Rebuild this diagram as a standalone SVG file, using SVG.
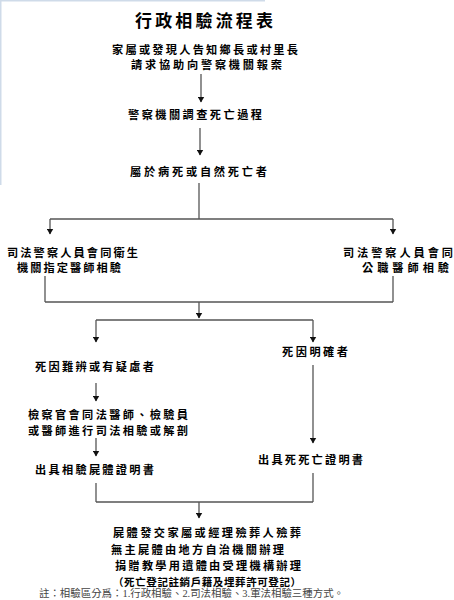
<svg xmlns="http://www.w3.org/2000/svg" width="454" height="600" viewBox="0 0 454 600">
<style>
.t{font-family:"Noto Sans CJK TC","Noto Sans CJK SC",sans-serif;font-weight:bold;font-size:11.2px;fill:#000}
.ti{font-family:"Noto Sans CJK TC","Noto Sans CJK SC",sans-serif;font-weight:bold;font-size:17px;fill:#000}
.s{font-size:10.5px}
.fn{font-family:"Liberation Serif","Noto Sans CJK TC",serif;font-size:10.5px;fill:#444}
.c line{stroke:#555;stroke-width:1.3;fill:none}
.c line.a{marker-end:url(#ah)}
</style>
<defs>
<marker id="ah" viewBox="0 0 6 7" refX="5.5" refY="3.5" markerWidth="6" markerHeight="7" markerUnits="userSpaceOnUse" orient="auto">
<path d="M0,0 L6,3.5 L0,7 Z" fill="#111"/>
</marker>
</defs>
<rect width="454" height="600" fill="#fff"/>
<rect x="0" y="0" width="265" height="1.5" fill="#cfdbe9"/>
<rect x="0" y="0" width="1.5" height="185" fill="#cfdbe9"/>

<g id="title"><text class="ti" x="135" y="27" textLength="138" lengthAdjust="spacing">行政相驗流程表</text></g>

<g id="n1">
<text class="t"><tspan x="112" y="53.5" textLength="186" lengthAdjust="spacing">家屬或發現人告知鄉長或村里長</tspan><tspan x="131" y="69" textLength="151" lengthAdjust="spacing">請求協助向警察機關報案</tspan></text>
</g>
<g id="n2"><text class="t" x="128" y="119" textLength="134" lengthAdjust="spacing">警察機關調查死亡過程</text></g>
<g id="n3"><text class="t" x="130" y="176" textLength="137" lengthAdjust="spacing">屬於病死或自然死亡者</text></g>
<g id="n4">
<text class="t"><tspan x="7" y="256.5" textLength="131" lengthAdjust="spacing">司法警察人員會同衛生</tspan><tspan x="17" y="272" textLength="104" lengthAdjust="spacing">機關指定醫師相驗</tspan></text>
</g>
<g id="n5">
<text class="t"><tspan x="343" y="256.5" textLength="110" lengthAdjust="spacing">司法警察人員會同</tspan><tspan x="362" y="272" textLength="87" lengthAdjust="spacing">公職醫師相驗</tspan></text>
</g>
<g id="n6"><text class="t" x="35" y="371" textLength="119" lengthAdjust="spacing">死因難辨或有疑慮者</text></g>
<g id="n7"><text class="t" x="282" y="356" textLength="66" lengthAdjust="spacing">死因明確者</text></g>
<g id="n8">
<text class="t"><tspan x="28" y="419" textLength="160" lengthAdjust="spacing">檢察官會同法醫師、檢驗員</tspan><tspan x="28" y="434.5" textLength="160" lengthAdjust="spacing">或醫師進行司法相驗或解剖</tspan></text>
</g>
<g id="n9"><text class="t" x="35" y="474" textLength="119" lengthAdjust="spacing">出具相驗屍體證明書</text></g>
<g id="n10"><text class="t" x="258" y="464" textLength="105" lengthAdjust="spacing">出具死死亡證明書</text></g>
<g id="n11">
<text class="t"><tspan x="113" y="537" textLength="188" lengthAdjust="spacing">屍體發交家屬或經理殮葬人殮葬</tspan><tspan x="111" y="553.5" textLength="173" lengthAdjust="spacing">無主屍體由地方自治機關辦理</tspan><tspan x="115" y="569.5" textLength="186" lengthAdjust="spacing">捐贈教學用遺體由受理機構辦理</tspan><tspan class="s" x="113" y="586" textLength="188" lengthAdjust="spacing">（死亡登記註銷戶籍及埋葬許可登記）</tspan></text>
</g>
<g id="note"><text class="fn" x="39" y="597" textLength="305" lengthAdjust="spacingAndGlyphs">註：相驗區分爲：1.行政相驗、2.司法相驗、3.軍法相驗三種方式。</text></g>

<g id="connectors" class="c">
<line class="a" x1="201" y1="74" x2="201" y2="102"/>
<line class="a" x1="200" y1="128" x2="200" y2="155"/>
<line x1="199" y1="183" x2="199" y2="219"/>
<line x1="50" y1="219" x2="393" y2="219"/>
<line class="a" x1="50" y1="219" x2="50" y2="234"/>
<line class="a" x1="393" y1="219" x2="393" y2="234"/>
<line x1="45" y1="276" x2="45" y2="302"/>
<line x1="393" y1="276" x2="393" y2="302"/>
<line x1="45" y1="302" x2="393" y2="302"/>
<line class="a" x1="199" y1="302" x2="199" y2="318"/>
<line x1="96" y1="320" x2="313" y2="320"/>
<line class="a" x1="96" y1="320" x2="96" y2="342"/>
<line class="a" x1="313" y1="320" x2="313" y2="342"/>
<line class="a" x1="96" y1="383" x2="96" y2="401"/>
<line class="a" x1="96" y1="438" x2="96" y2="456"/>
<line class="a" x1="313" y1="365" x2="313" y2="443"/>
<line x1="96" y1="483" x2="96" y2="502"/>
<line x1="313" y1="473" x2="313" y2="502"/>
<line x1="96" y1="502" x2="313" y2="502"/>
<line class="a" x1="199" y1="502" x2="199" y2="518"/>
</g>
</svg>
